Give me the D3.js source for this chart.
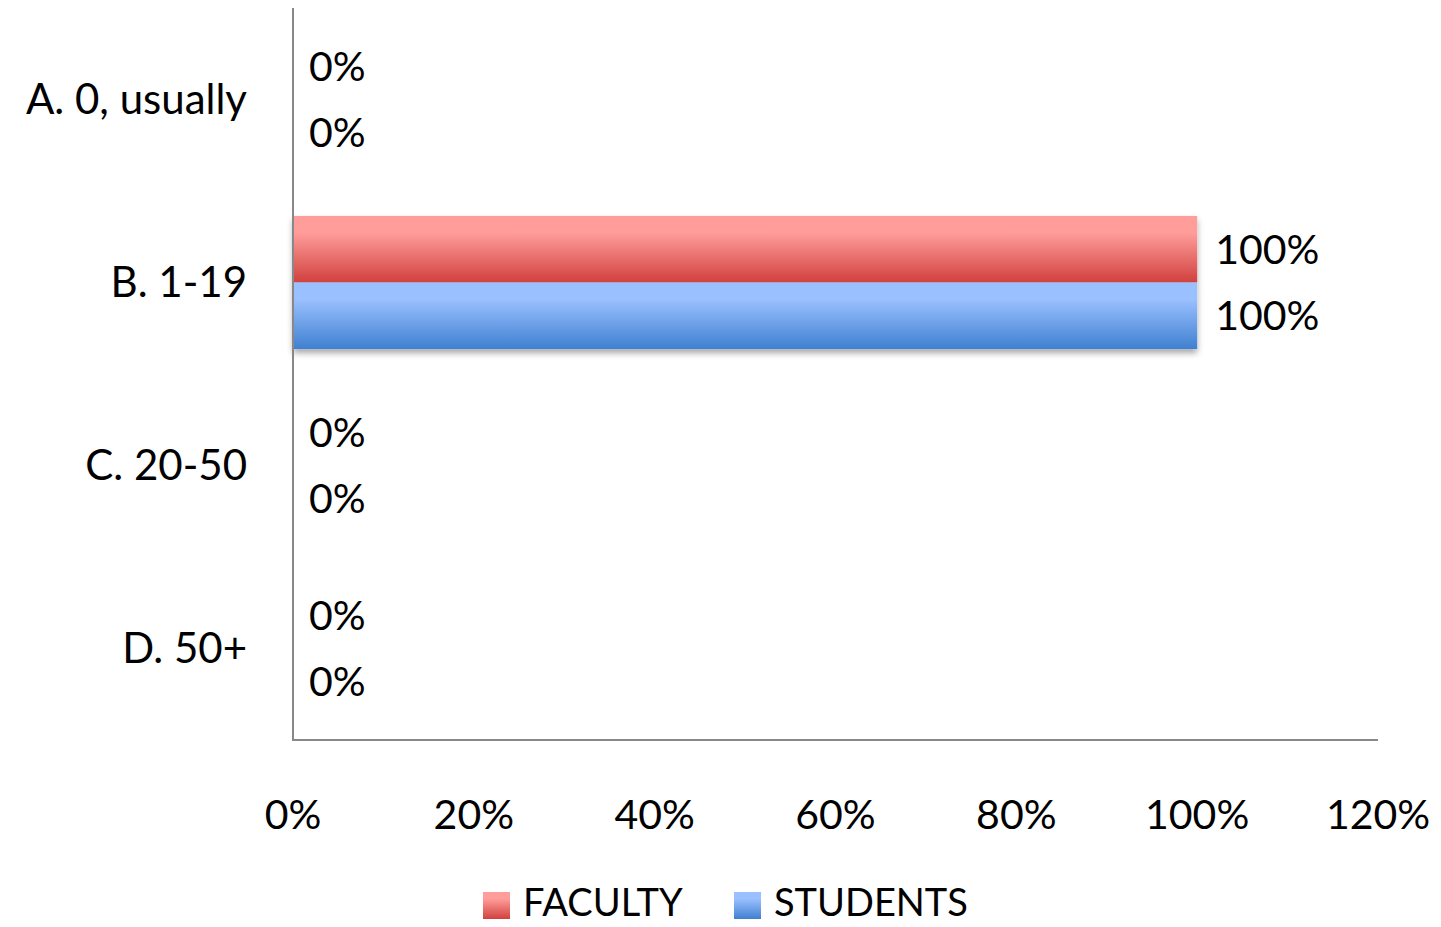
<!DOCTYPE html>
<html><head><meta charset="utf-8">
<script src="https://cdn.jsdelivr.net/npm/d3@7"></script>
<style>body{margin:0;background:#fff}svg{display:block}text{font-family:Lato,"Open Sans",sans-serif;fill:#000}</style>
</head><body>
<script>
const categories = ["A. 0, usually", "B. 1-19", "C. 20-50", "D. 50+"];
const seriesNames = ["FACULTY", "STUDENTS"];
const faculty = [0, 1, 0, 0];
const students = [0, 1, 0, 0];
const xTicks = [0, 0.2, 0.4, 0.6, 0.8, 1.0, 1.2];

const W = 1441, H = 927;
const svg = d3.select("body").append("svg").attr("width", W).attr("height", H);
const defs = svg.append("defs");
const grads = [["gradF", "#ff9d9b", "#d0413e"], ["gradS", "#9ac0ff", "#3f80d0"]];
grads.forEach(([id, a, b]) => {
  const g = defs.append("linearGradient").attr("id", id).attr("x1", 0).attr("y1", 0).attr("x2", 0).attr("y2", 1);
  g.append("stop").attr("offset", "0%").attr("stop-color", a);
  g.append("stop").attr("offset", "25%").attr("stop-color", a);
  g.append("stop").attr("offset", "100%").attr("stop-color", b);
});
const f = defs.append("filter").attr("id", "shadow").attr("x", "-5%").attr("y", "-20%").attr("width", "110%").attr("height", "150%");
f.append("feDropShadow").attr("dx", 0).attr("dy", 4).attr("stdDeviation", 3).attr("flood-color", "#000").attr("flood-opacity", 0.35);

const x = d3.scaleLinear().domain([0, 1.2]).range([293, 1378]);
const y = d3.scaleBand().domain(categories).range([8, 740]).padding(0);
const sub = d3.scaleBand().domain(seriesNames).range([0, y.bandwidth()]).paddingInner(0).paddingOuter(0.375);

const data = categories.map((c, i) => ({c, vals: [faculty[i], students[i]]}));
const fills = ["url(#gradF)", "url(#gradS)"];
const fs = 41;

const g = svg.append("g");
data.forEach(d => {
  const grp = g.append("g").attr("transform", `translate(0,${y(d.c)})`);
  const anyBar = d.vals.some(v => v > 0);
  const barsG = grp.append("g");
  if (anyBar) barsG.attr("filter", "url(#shadow)");
  d.vals.forEach((v, j) => {
    if (v > 0) barsG.append("rect").attr("x", x(0)).attr("y", sub(seriesNames[j]))
      .attr("width", x(v) - x(0)).attr("height", sub.bandwidth()).attr("fill", fills[j]);
    grp.append("text").attr("x", x(v) + (v > 0 ? 18 : 16))
      .attr("y", sub(seriesNames[j]) + sub.bandwidth() / 2).attr("dy", "0.35em")
      .attr("font-size", fs).text(d3.format(".0%")(v));
  });
});

// y axis labels
svg.append("g").selectAll("text").data(categories).join("text")
  .attr("x", 247).attr("y", d => y(d) + y.bandwidth() / 2).attr("dy", "0.35em")
  .attr("text-anchor", "end").attr("font-size", 42).text(d => d);

// axis lines
svg.append("line").attr("x1", x(0)).attr("x2", x(0)).attr("y1", 8).attr("y2", 740).attr("stroke", "#888").attr("stroke-width", 2);
svg.append("line").attr("x1", x(0) - 1).attr("x2", x(1.2)).attr("y1", 740).attr("y2", 740).attr("stroke", "#888").attr("stroke-width", 2);

// x tick labels
svg.append("g").selectAll("text").data(xTicks).join("text")
  .attr("x", d => x(d)).attr("y", 815).attr("dy", "0.35em").attr("text-anchor", "middle")
  .attr("font-size", fs).text(d => d3.format(".0%")(d));

// legend
const legX = [483, 734];
seriesNames.forEach((s, j) => {
  svg.append("rect").attr("x", legX[j]).attr("y", 892).attr("width", 27).attr("height", 27).attr("fill", fills[j]);
  svg.append("text").attr("x", legX[j] + 40).attr("y", 903).attr("dy", "0.35em").attr("font-size", 38).text(s);
});
</script>
</body></html>
